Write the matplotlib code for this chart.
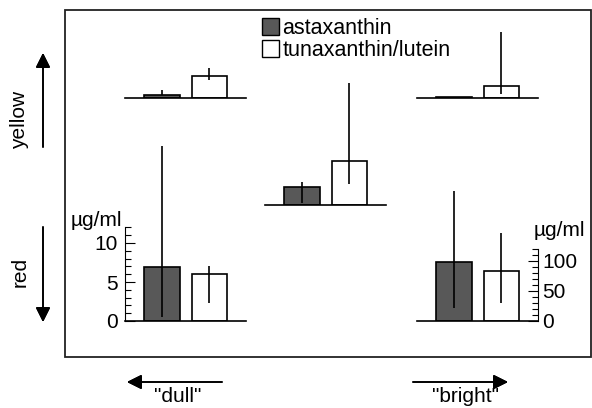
import matplotlib
matplotlib.use("Agg")
import matplotlib.pyplot as plt
from matplotlib.patches import Patch, Rectangle
from matplotlib.ticker import MultipleLocator

plt.rcParams["font.family"] = ["Liberation Sans", "DejaVu Sans"]

W, H = 592, 408

# --- data (left groups in µg/ml on 0-12 scale, right groups on 0-120 scale)
series = ["astaxanthin", "tunaxanthin/lutein"]
groups = ["dull yellow", "intermediate", "bright yellow", "dull red", "bright red"]
scale = ["left", "left", "right", "left", "right"]
astax_mean = [0.4, 2.3, 2.5, 6.9, 98]
astax_lo = [0.4, 0.3, 2.5, 0.5, 22]
astax_hi = [1.0, 2.95, 2.5, 22.4, 217]
tuna_mean = [2.8, 5.6, 20, 6.0, 83]
tuna_lo = [2.3, 2.7, 7, 2.3, 30]
tuna_hi = [3.85, 15.6, 110, 7.05, 147]

# --- layout (pixels)
group_x0 = [125, 265, 417, 125, 417]
group_base = [98, 205, 98, 321, 321]
px_per_unit = {"left": 7.8, "right": 0.6}
ytop = {"left": 12, "right": 120}
ax_w = 121
dark = "#585858"

fig = plt.figure(figsize=(W / 100, H / 100), dpi=100)


def px_rect(x0, base, w, h):
    return [x0 / W, (H - base) / H, w / W, h / H]


for i, g in enumerate(groups):
    s = scale[i]
    h = ytop[s] * px_per_unit[s]
    ax = fig.add_axes(px_rect(group_x0[i], group_base[i], ax_w, h))
    ax.patch.set_alpha(0)
    means = [astax_mean[i], tuna_mean[i]]
    lo = [means[0] - astax_lo[i], means[1] - tuna_lo[i]]
    hi = [astax_hi[i] - means[0], tuna_hi[i] - means[1]]
    ax.bar([0, 1], means, width=0.75, color=[dark, "white"],
           edgecolor="black", linewidth=1.2, zorder=2)
    ax.errorbar([0, 1], means, yerr=[lo, hi], fmt="none", ecolor="black",
                elinewidth=1.2, capsize=0, zorder=3, clip_on=False)
    ax.set_xlim(-0.78, 1.77)
    ax.set_ylim(0, ytop[s])
    for sp in ["top", "left", "right"]:
        ax.spines[sp].set_visible(False)
    ax.spines["bottom"].set_linewidth(1.2)
    ax.set_xticks([])
    ax.set_yticks([])
    if g == "dull red":
        ax.spines["left"].set_visible(True)
        ax.spines["left"].set_linewidth(0.8)
        ax.yaxis.set_major_locator(MultipleLocator(5))
        ax.yaxis.set_minor_locator(MultipleLocator(1))
        ax.tick_params(axis="y", which="both", direction="in", labelsize=15, pad=5, width=0.8)
        ax.tick_params(axis="y", which="major", length=7)
        ax.tick_params(axis="y", which="minor", length=4)
    if g == "bright red":
        ax.spines["right"].set_visible(True)
        ax.spines["right"].set_linewidth(0.8)
        ax.yaxis.tick_right()
        ax.yaxis.set_major_locator(MultipleLocator(50))
        ax.yaxis.set_minor_locator(MultipleLocator(10))
        ax.tick_params(axis="y", which="both", direction="in", labelsize=15, pad=3, width=0.8)
        ax.tick_params(axis="y", which="major", length=7)
        ax.tick_params(axis="y", which="minor", length=4)

# units labels
fig.text(96 / W, 1 - 220 / H, "µg/ml", fontsize=15, ha="center", va="center")
fig.text(559 / W, 1 - 230 / H, "µg/ml", fontsize=15, ha="center", va="center")

# frame
fig.add_artist(Rectangle((65 / W, 1 - 357 / H), (591 - 65) / W, (357 - 10) / H,
                         transform=fig.transFigure, fill=False, lw=1.3, color="#222"))

# legend
handles = [Patch(facecolor=dark, edgecolor="black", lw=1.0),
           Patch(facecolor="white", edgecolor="black", lw=1.0)]
fig.legend(handles, series, loc="upper left", bbox_to_anchor=(262 / W, 1 - 18 / H),
           frameon=False, fontsize=15.5, handlelength=0.8, handleheight=0.8,
           handletextpad=0.15, labelspacing=0.05, borderpad=0, borderaxespad=0)

# direction arrows
arrow = dict(arrowstyle="-|>", mutation_scale=22, lw=1.2, color="black",
             shrinkA=0, shrinkB=0)
for start, end in [((43, H - 147), (43, H - 53)), ((43, H - 227), (43, H - 322)),
                   ((222, H - 382), (127, H - 382)), ((413, H - 382), (508, H - 382))]:
    fig.add_artist(plt.annotate("", xy=end, xytext=start, xycoords="figure pixels",
                                textcoords="figure pixels", arrowprops=arrow))

fig.text(20 / W, 1 - 120 / H, "yellow", fontsize=15, rotation=90, ha="center", va="center")
fig.text(20 / W, 1 - 272 / H, "red", fontsize=15, rotation=90, ha="center", va="center")
fig.text(178 / W, 1 - 397 / H, '"dull"', fontsize=15, ha="center", va="center")
fig.text(465 / W, 1 - 397 / H, '"bright"', fontsize=15, ha="center", va="center")

fig.savefig("out.png", dpi=100)
